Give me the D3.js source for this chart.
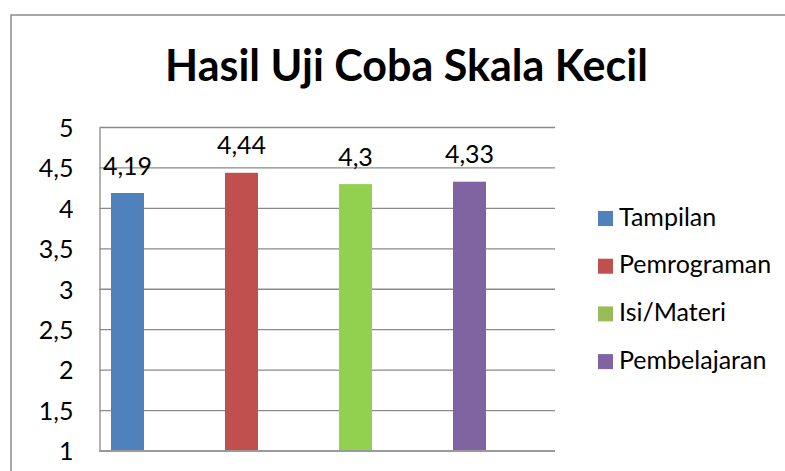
<!DOCTYPE html>
<html>
<head>
<meta charset="utf-8">
<script src="https://cdn.jsdelivr.net/npm/d3@7"></script>
<style>
  html, body { margin: 0; padding: 0; background: #fff; }
  svg { display: block; }
  text { font-family: Lato, "Noto Sans", sans-serif; fill: #000; }
</style>
</head>
<body>
<svg id="chart" width="785" height="471"></svg>
<script>
// Series shown as one bar each
const seriesNames = ["Tampilan", "Pemrograman", "Isi/Materi", "Pembelajaran"];
const seriesValues = [4.19, 4.44, 4.3, 4.33];
const barColors = ["#4F81BD", "#C0504D", "#92D050", "#8064A2"];
const legendColors = ["#4F81BD", "#C0504D", "#9BBB59", "#8064A2"];
const yTicks = [1, 1.5, 2, 2.5, 3, 3.5, 4, 4.5, 5];
const titleText = "Hasil Uji Coba Skala Kecil";

const fmt = v => String(v).replace(".", ",");
const labelSize = 25;

const svg = d3.select("#chart");

// chart frame
svg.append("rect")
  .attr("x", 11).attr("y", 15)
  .attr("width", 800).attr("height", 480)
  .attr("fill", "#fff")
  .attr("stroke", "#8c8c8c")
  .attr("stroke-width", 1.5);

// title
svg.append("text")
  .attr("x", 406.5).attr("y", 81)
  .attr("text-anchor", "middle")
  .attr("font-weight", "bold")
  .attr("font-size", 43)
  .text(titleText);

// plot area
const plot = { left: 99.5, right: 555, top: 127.5, bottom: 451 };

const y = d3.scaleLinear().domain([1, 5]).range([plot.bottom, plot.top]);
const x = d3.scalePoint().domain(seriesNames).range([127.5, 469.5]);
const barW = 33;

// horizontal gridlines
svg.append("g")
  .selectAll("line")
  .data(yTicks)
  .join("line")
  .attr("x1", plot.left).attr("x2", plot.right)
  .attr("y1", d => y(d)).attr("y2", d => y(d))
  .attr("stroke", "#8a8a8a")
  .attr("stroke-width", 1.3);

// value axis with labels
const yAxis = d3.axisLeft(y)
  .tickValues(yTicks)
  .tickSize(0)
  .tickPadding(26)
  .tickFormat(fmt);

const ag = svg.append("g")
  .attr("transform", `translate(${plot.left},0)`)
  .call(yAxis);
ag.select(".domain").attr("stroke", "#8a8a8a").attr("stroke-width", 1.3);
ag.selectAll("text")
  .attr("font-family", "Lato, 'Noto Sans', sans-serif")
  .attr("font-size", labelSize)
  .attr("fill", "#000")
  .attr("dy", "0.35em");

// bars
svg.append("g")
  .selectAll("rect")
  .data(seriesNames)
  .join("rect")
  .attr("x", (d) => x(d) - barW / 2)
  .attr("width", barW)
  .attr("y", (d, i) => y(seriesValues[i]))
  .attr("height", (d, i) => y(1) - y(seriesValues[i]))
  .attr("fill", (d, i) => barColors[i]);

// category axis line
svg.append("line")
  .attr("x1", plot.left).attr("x2", plot.right)
  .attr("y1", y(1)).attr("y2", y(1))
  .attr("stroke", "#9a9a9a")
  .attr("stroke-width", 1.8);

// value labels
svg.append("g")
  .selectAll("text")
  .data(seriesNames)
  .join("text")
  .attr("x", d => x(d))
  .attr("y", (d, i) => y(seriesValues[i]) - 18.5)
  .attr("text-anchor", "middle")
  .attr("font-size", labelSize)
  .text((d, i) => fmt(seriesValues[i]));

// legend
const legend = svg.append("g")
  .selectAll("g")
  .data(seriesNames)
  .join("g")
  .attr("transform", (d, i) => `translate(598,${211 + i * 47.7})`);
legend.append("rect")
  .attr("width", 15).attr("height", 15)
  .attr("fill", (d, i) => legendColors[i]);
legend.append("text")
  .attr("x", 21).attr("y", 14.5)
  .attr("font-size", labelSize)
  .text(d => d);
</script>
</body>
</html>
